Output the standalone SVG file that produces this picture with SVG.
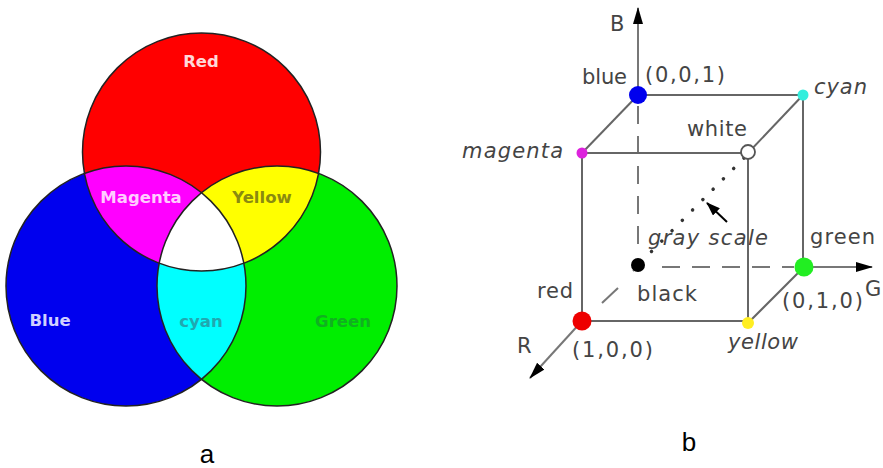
<svg xmlns="http://www.w3.org/2000/svg" width="883" height="468" viewBox="0 0 883 468">
<style>
.vl{font-family:"DejaVu Sans",Verdana,sans-serif;font-weight:bold;font-size:16.5px;text-anchor:middle}
.cl{font-family:"DejaVu Sans",Verdana,sans-serif;font-size:21px;fill:#444}
.it{font-style:italic}
.edge{stroke:#666;stroke-width:2;fill:none}
.axis{stroke:#777;stroke-width:2;fill:none}
.dash{stroke:#777;stroke-width:2;fill:none;stroke-dasharray:18 12}
.cap{font-family:"Liberation Sans",Arial,sans-serif;font-size:26px;fill:#000;text-anchor:middle}
</style>
<defs>
<clipPath id="cR"><circle cx="201.5" cy="152" r="119"/></clipPath>
<clipPath id="cB"><circle cx="126" cy="286" r="120"/></clipPath>
<clipPath id="cG"><circle cx="277" cy="286" r="120"/></clipPath>
<marker id="ah" markerWidth="18" markerHeight="12" refX="16" refY="6" orient="auto" markerUnits="userSpaceOnUse">
<path d="M0,1 L17,6 L0,11 z" fill="#000"/>
</marker>
<marker id="ahs" markerWidth="14" markerHeight="10" refX="13" refY="5" orient="auto" markerUnits="userSpaceOnUse">
<path d="M0,0 L14,5 L0,10 z" fill="#000"/>
</marker>
</defs>
<rect width="883" height="468" fill="#fff"/>

<!-- Venn diagram -->
<g id="venn">
<g id="blue-circle"><circle cx="126" cy="286" r="120" fill="#0000ee"/></g>
<g id="green-circle"><circle cx="277" cy="286" r="120" fill="#00ee00"/></g>
<g id="red-circle"><circle cx="201.5" cy="152" r="119" fill="#ff0000"/></g>
<g id="cyan-region" clip-path="url(#cB)"><circle cx="277" cy="286" r="120" fill="#00ffff"/></g>
<g id="magenta-region" clip-path="url(#cR)"><circle cx="126" cy="286" r="120" fill="#ff00ff"/></g>
<g id="yellow-region" clip-path="url(#cR)"><circle cx="277" cy="286" r="120" fill="#ffff00"/></g>
<g id="white-region" clip-path="url(#cR)"><g clip-path="url(#cB)"><circle cx="277" cy="286" r="120" fill="#ffffff"/></g></g>
<g id="outlines" fill="none" stroke="#222" stroke-width="1.5">
<circle cx="126" cy="286" r="120"/>
<circle cx="277" cy="286" r="120"/>
<circle cx="201.5" cy="152" r="119"/>
</g>
<text class="vl" x="201" y="67" fill="#ffd8d8">Red</text>
<text class="vl" x="141" y="203" fill="#ffccff">Magenta</text>
<text class="vl" x="262" y="203" fill="#8a8a10">Yellow</text>
<text class="vl" x="50" y="326" fill="#d0d0ff">Blue</text>
<text class="vl" x="201" y="327" fill="#20a8b0">cyan</text>
<text class="vl" x="343" y="327" fill="#10b020">Green</text>
</g>
<text class="cap" x="207" y="463">a</text>

<!-- RGB cube -->
<g id="connectors">
<line class="axis" x1="638" y1="97" x2="638" y2="8" marker-end="url(#ah)"/>
<line class="axis" x1="804" y1="267" x2="872" y2="267" marker-end="url(#ah)"/>
<line class="axis" x1="582" y1="321" x2="530" y2="378" marker-end="url(#ah)"/>
<line class="dash" x1="638" y1="106" x2="638" y2="246"/>
<line class="dash" x1="662" y1="267" x2="794" y2="267"/>
<line class="axis" x1="633" y1="271" x2="637" y2="267"/>
<line class="axis" x1="618" y1="288" x2="602" y2="303"/>
<line x1="744" y1="158" x2="646" y2="257" stroke="#333" stroke-width="3.5" stroke-linecap="round" stroke-dasharray="0.1 14.5"/>
<line x1="727" y1="222" x2="707" y2="203" stroke="#000" stroke-width="2" marker-end="url(#ahs)"/>
<line class="edge" x1="638" y1="95" x2="803" y2="95"/>
<line class="edge" x1="638" y1="95" x2="582" y2="153"/>
<line class="edge" x1="582" y1="153" x2="748" y2="153"/>
<line class="edge" x1="748" y1="153" x2="803" y2="95"/>
<line class="edge" x1="803" y1="95" x2="803" y2="267"/>
<line class="edge" x1="748" y1="153" x2="748" y2="323"/>
<line class="edge" x1="582" y1="153" x2="582" y2="321"/>
<line class="edge" x1="582" y1="321" x2="748" y2="321"/>
<line class="edge" x1="748" y1="323" x2="804" y2="267"/>
</g>
<g id="node-blue"><circle cx="638" cy="95" r="9" fill="#0000ee"/></g>
<g id="node-cyan"><circle cx="803" cy="95" r="5.5" fill="#33eedd"/></g>
<g id="node-magenta"><circle cx="582" cy="153" r="5.5" fill="#dd22dd"/></g>
<g id="node-white"><circle cx="748" cy="152" r="7" fill="#fff" stroke="#555" stroke-width="1.8"/></g>
<g id="node-black"><circle cx="638" cy="265" r="7" fill="#000"/></g>
<g id="node-green"><circle cx="804" cy="267" r="9.5" fill="#22ee22"/></g>
<g id="node-red"><circle cx="582" cy="321" r="9.5" fill="#ee0000"/></g>
<g id="node-yellow"><circle cx="748" cy="323" r="6" fill="#ffee22"/></g>

<g id="labels">
<text class="cl" x="610" y="31">B</text>
<text class="cl" x="582" y="84" textLength="45">blue</text>
<text class="cl" x="645" y="82" textLength="80">(0,0,1)</text>
<text class="cl it" x="814" y="94" textLength="53">cyan</text>
<text class="cl" x="687" y="136" textLength="60">white</text>
<text class="cl it" x="462" y="158" textLength="101">magenta</text>
<text class="cl it" x="648" y="245" textLength="120">gray scale</text>
<text class="cl" x="810" y="244" textLength="65">green</text>
<text class="cl" x="865" y="296">G</text>
<text class="cl" x="537" y="298" textLength="36">red</text>
<text class="cl" x="637" y="301" textLength="60">black</text>
<text class="cl" x="782" y="308" textLength="81">(0,1,0)</text>
<text class="cl" x="517" y="353">R</text>
<text class="cl" x="572" y="357" textLength="81">(1,0,0)</text>
<text class="cl it" x="728" y="349" textLength="70">yellow</text>
</g>
<text class="cap" x="689" y="451">b</text>
</svg>
